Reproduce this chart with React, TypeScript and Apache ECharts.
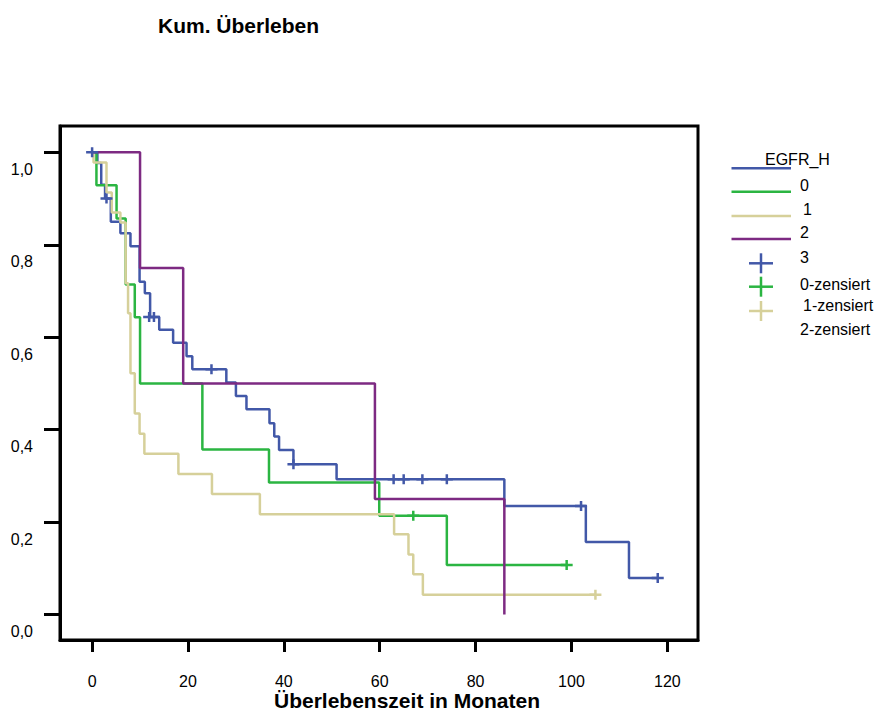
import React, { useEffect, useRef } from "react";
import * as echarts from "echarts";

// ---- data ----
const xTicks = [0, 20, 40, 60, 80, 100, 120];
const yTicks = [0, 0.2, 0.4, 0.6, 0.8, 1.0];

const groupNames = ["0", "1", "2", "3"];
const groupColors = ["#4258a8", "#2bb542", "#d6d09a", "#7d2a82"];

// step points [month, cumulative survival] for each group
const steps0 = [
  [0, 1], [1.1, 0.977], [1.9, 0.93], [2.7, 0.9], [3.9, 0.85], [5.9, 0.825], [8, 0.797],
  [9.9, 0.72], [11, 0.695], [12.1, 0.644], [14, 0.616], [16.9, 0.588], [19.7, 0.559],
  [20.9, 0.531], [28, 0.502], [30, 0.473], [32.2, 0.444], [37, 0.414], [38, 0.385],
  [39, 0.356], [42, 0.325], [51, 0.293], [86, 0.235], [103, 0.157], [112, 0.079], [118, 0.079],
];
const steps1 = [
  [0, 1], [0.9, 0.929], [5.1, 0.857], [7, 0.714], [8.9, 0.643], [10, 0.5], [23, 0.357],
  [36.9, 0.286], [59.9, 0.214], [74, 0.107], [99, 0.107],
];
const steps2 = [
  [0, 1], [0.3, 0.978], [3, 0.913], [4.1, 0.87], [5.9, 0.848], [7, 0.717], [7.5, 0.652],
  [8, 0.522], [8.9, 0.435], [9.9, 0.391], [10.9, 0.348], [18, 0.304], [25, 0.261],
  [35, 0.217], [63, 0.174], [66, 0.13], [67, 0.087], [69, 0.043], [105, 0.043],
];
const steps3 = [[0, 1], [10, 0.75], [19, 0.5], [59, 0.25], [86, 0]];

// censored observations [month, survival]
const cens0 = [
  [0, 1], [3, 0.9], [11.9, 0.644], [12.9, 0.644], [24.9, 0.531], [42, 0.325],
  [62.9, 0.293], [65, 0.293], [68.9, 0.293], [74, 0.293], [102, 0.235], [118, 0.079],
];
const cens1 = [[67, 0.214], [99, 0.107]];
const cens2 = [[105, 0.043]];

const legendTitle = "EGFR_H";
const legendLabels = ["0", "1", "2", "3", "0-zensiert", "1-zensiert", "2-zensiert"];

const FONT = '"Liberation Sans", Arial, Helvetica, sans-serif';
const PLUS = "path://M0,3.75H4.75V0H7.25V3.75H12V6.25H7.25V10H4.75V6.25H0Z";

export default function App() {
  const ref = useRef<HTMLDivElement>(null);

  useEffect(() => {
    if (!ref.current) return;
    const chart = echarts.init(ref.current, null, { renderer: "svg" });

    const stepSets = [steps0, steps1, steps2, steps3];
    const censSets = [cens0, cens1, cens2];

    const lineSeries = stepSets.map((d, i) => ({
      name: groupNames[i],
      type: "line",
      step: "end",
      data: d,
      symbol: "none",
      showSymbol: false,
      lineStyle: { color: groupColors[i], width: 2.5 },
      itemStyle: { color: groupColors[i] },
      z: 2 + i,
    }));
    const censSeries = censSets.map((d, i) => ({
      name: groupNames[i] + "-zensiert",
      type: "scatter",
      data: d,
      symbol: PLUS,
      symbolSize: [12, 10],
      itemStyle: { color: groupColors[i], opacity: 1 },
      z: 10,
    }));

    // legend (drawn as graphic, reproducing the reference layout)
    const lgLineY = [168.3, 191.7, 216, 239];
    const lgPlusY = [263.3, 286.7, 311];
    const lgTextPos = [
      [800, 185], [803, 209], [800, 232.7], [800, 257.7],
      [800, 284], [803, 305.5], [800, 329.3],
    ];
    const graphic: any[] = [];
    graphic.push({
      type: "text",
      x: 274,
      y: 700,
      style: { text: "Überlebenszeit in Monaten", fontSize: 21, fontWeight: "bold", fontFamily: FONT, fill: "#000", align: "left", verticalAlign: "middle" },
    });
    graphic.push({
      type: "text",
      x: 158,
      y: 25,
      style: { text: "Kum. Überleben", fontSize: 21, fontWeight: "bold", fontFamily: FONT, fill: "#000", align: "left", verticalAlign: "middle" },
    });
    graphic.push({
      type: "text",
      x: 765,
      y: 159.5,
      style: { text: legendTitle, fontSize: 16, fontFamily: FONT, fill: "#000", align: "left", verticalAlign: "middle" },
    });
    lgLineY.forEach((y, i) => {
      graphic.push({
        type: "line",
        shape: { x1: 731.5, y1: y, x2: 791, y2: y },
        style: { stroke: groupColors[i], lineWidth: 2.5 },
      });
    });
    lgPlusY.forEach((y, i) => {
      graphic.push({
        type: "line",
        shape: { x1: 749, y1: y, x2: 773, y2: y },
        style: { stroke: groupColors[i], lineWidth: 2.5 },
      });
      graphic.push({
        type: "line",
        shape: { x1: 761, y1: y - 10, x2: 761, y2: y + 10 },
        style: { stroke: groupColors[i], lineWidth: 2.5 },
      });
    });
    legendLabels.forEach((t, i) => {
      graphic.push({
        type: "text",
        x: lgTextPos[i][0],
        y: lgTextPos[i][1],
        style: { text: t, fontSize: 16, fontFamily: FONT, fill: "#000", align: "left", verticalAlign: "middle" },
      });
    });

    chart.setOption({
      animation: false,
      backgroundColor: "#fff",
      grid: { left: 60, top: 126, width: 638, height: 514, show: true, borderColor: "#000", borderWidth: 3 },
      xAxis: {
        type: "value",
        min: -6.7,
        max: 126.4,
        splitLine: { show: false },
        axisLine: { show: true, onZero: false, lineStyle: { color: "#000", width: 3 } },
        axisTick: { show: true, customValues: xTicks, length: 12, lineStyle: { color: "#000", width: 3 } },
        axisLabel: { customValues: xTicks, margin: 33, fontSize: 16, color: "#000", fontFamily: FONT },
      },
      yAxis: {
        type: "value",
        min: -0.055,
        max: 1.057,
        splitLine: { show: false },
        axisLine: { show: true, onZero: false, lineStyle: { color: "#000", width: 3 } },
        axisTick: { show: true, customValues: yTicks, length: 16, lineStyle: { color: "#000", width: 3 } },
        axisLabel: {
          customValues: yTicks,
          margin: 27,
          fontSize: 16,
          color: "#000",
          fontFamily: FONT,
          verticalAlign: "top",
          padding: [9, 0, 0, 0],
          formatter: (v: number) => v.toFixed(1).replace(".", ","),
        },
      },
      series: [...lineSeries, ...censSeries],
      graphic,
    });

    return () => chart.dispose();
  }, []);

  return (
    <div
      ref={ref}
      style={{ position: "fixed", left: 0, top: 0, width: 874, height: 716, background: "#fff" }}
    />
  );
}
